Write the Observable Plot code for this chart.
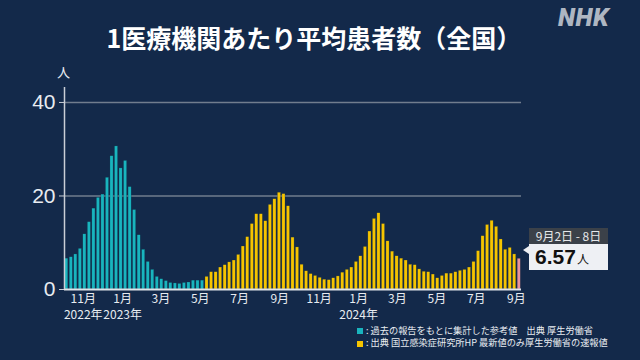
<!DOCTYPE html>
<html><head><meta charset="utf-8">
<script src="https://cdn.jsdelivr.net/npm/d3@7"></script>
<script src="https://cdn.jsdelivr.net/npm/@observablehq/plot@0.6"></script>
<style>
html,body{margin:0;padding:0;background:#13294a;}
#wrap{position:relative;width:640px;height:360px;background:#13294a;overflow:hidden;font-family:"Noto Sans CJK JP","Noto Sans",sans-serif;color:#fff;}
#chart{position:absolute;left:0;top:0;}
#title{position:absolute;left:0;width:628px;top:20px;text-align:center;font-size:25px;font-weight:700;line-height:34px;letter-spacing:0px;}
#nhk{position:absolute;left:558px;top:3px;font-family:Roboto,"DejaVu Sans",sans-serif;font-weight:900;font-style:italic;font-size:25px;color:#aeb6c2;letter-spacing:0.5px;}
#unit{position:absolute;left:57px;top:62px;font-size:13px;color:#e8ecf1;}
#legend{position:absolute;left:357px;top:323.5px;font-size:9.2px;line-height:12.5px;color:#e8ecf1;}
#legend div{white-space:nowrap;height:12.5px;}
#legend .sw{display:inline-block;width:6px;height:6px;margin-right:3px;vertical-align:-0.5px;}
#ann-head{position:absolute;left:529px;top:228px;width:79px;height:16px;background:#3b4149;color:#e6e8ea;font-size:12px;line-height:16px;text-align:center;}
#ann-val{position:absolute;left:529px;top:244px;width:79px;height:26px;background:#eef0f4;color:#111;box-sizing:border-box;padding-left:6px;line-height:26px;}
#ann-val .num{font-family:"Liberation Sans",Arial,sans-serif;font-weight:700;font-size:21px;}
#ann-val .u{font-size:12px;margin-left:1px;}
#ann-tri{position:absolute;left:523px;top:246px;width:0;height:0;border-top:4px solid transparent;border-bottom:4px solid transparent;border-right:6px solid #eef0f4;}
</style>
</head><body>
<div id="wrap">
  <div id="chart"></div>
  <div id="title">1医療機関あたり平均患者数（全国）</div>
  <div id="nhk">NHK</div>
  <div id="unit">人</div>
  <div id="ann-tri"></div>
  <div id="ann-head"></div>
  <div id="ann-val"></div>
  <div id="legend"></div>
</div>
<script>
// ---- data ----
const startWeek = "2022-10-03"; // first weekly bar (Monday)
const tealValues = [6.6, 6.9, 7.5, 8.7, 11.8, 14.4, 17.3, 19.6, 20.3, 23.9, 28.5, 30.6, 25.9, 27.5, 21.9, 17.0, 11.6, 8.5, 5.9, 4.2, 2.7, 2.2, 1.8, 1.4, 1.3, 1.2, 1.4, 1.5, 1.9, 1.9, 1.9];
const yellowValues = [2.7, 3.7, 3.7, 4.7, 5.2, 5.8, 6.2, 7.4, 9.2, 11.2, 14.0, 16.1, 16.1, 14.6, 18.1, 19.3, 20.7, 20.4, 17.8, 11.1, 9.0, 5.3, 3.9, 3.3, 2.9, 2.5, 2.1, 2.0, 2.4, 2.8, 3.6, 4.2, 4.7, 5.9, 7.1, 9.1, 12.4, 15.1, 16.3, 14.0, 10.3, 8.1, 7.1, 6.6, 6.2, 5.3, 5.2, 4.3, 3.8, 3.7, 3.2, 2.4, 2.9, 3.4, 3.4, 3.7, 4.0, 4.2, 4.7, 5.9, 8.2, 11.4, 13.8, 14.7, 13.4, 10.7, 8.5, 8.9, 7.5];
const latestValues = [6.57];
const latestLabel = "9月2日 - 8日";
const yTicks = [0, 20, 40];
const monthTickDates = ["2022-11-01","2023-01-01","2023-03-01","2023-05-01","2023-07-01","2023-09-01","2023-11-01","2024-01-01","2024-03-01","2024-05-01","2024-07-01","2024-09-01"];
const yearTickDates = ["2022-11-01","2023-01-01","2024-01-01"];
const yearTickLabels = ["2022年","2023年","2024年"];
const legendLabels = [": 過去の報告をもとに集計した参考値　出典 厚生労働省", ": 出典 国立感染症研究所HP 最新値のみ厚生労働省の速報値"];
const colors = {teal:"#19b4be", yellow:"#f6c400", latest:"#e9939b"};

// ---- build table ----
const start = new Date(startWeek + "T00:00:00Z");
const allValues = [
  ...tealValues.map(v => ({v, s:"teal"})),
  ...yellowValues.map(v => ({v, s:"yellow"})),
  ...latestValues.map(v => ({v, s:"latest"}))
];
const rows = allValues.map((d, i) => ({
  start: d3.utcDay.offset(start, 7 * i),
  end: d3.utcDay.offset(start, 7 * (i + 1)),
  value: d.v,
  series: d.s
}));
const endDate = rows[rows.length - 1].end;
const toDate = s => new Date(s + "T00:00:00Z");
const yearRows = yearTickDates.map((d, i) => ({date: toDate(d), label: yearTickLabels[i]}));

const barOpts = s => ({x1:"start", x2:"end", y:"value", fill: colors[s], insetLeft:0.7, insetRight:0.7, stroke:"#0d2b40", strokeWidth:0.4, strokeOpacity:0.6});

const chart = Plot.plot({
  width: 640, height: 360,
  marginTop: 87, marginBottom: 71, marginLeft: 64, marginRight: 119,
  style: {background:"transparent", color:"#e8ecf1", fontFamily:'"Noto Sans CJK JP","Noto Sans",sans-serif'},
  x: {type:"utc", domain:[start, endDate]},
  y: {domain:[0, 43.2]},
  marks: [
    Plot.gridY(yTicks.filter(d => d > 0), {stroke:"#717d8e", strokeOpacity:1, strokeWidth:1.5}),
    Plot.rectY(rows.filter(d => d.series === "teal"), barOpts("teal")),
    Plot.rectY(rows.filter(d => d.series === "yellow"), barOpts("yellow")),
    Plot.rectY(rows.filter(d => d.series === "latest"), barOpts("latest")),
    Plot.ruleY([0], {stroke:"#dfe3e8", strokeWidth:2}),
    Plot.ruleX([start], {y1:0, y2:43.2, stroke:"#c9ced6", strokeWidth:1.5}),
    Plot.axisY({ticks:yTicks, tickSize:5, tickPadding:4, fontSize:21, fontFamily:'"Liberation Sans",Arial,sans-serif', label:null, stroke:"#c9ced6"}),
    Plot.axisX({ticks:monthTickDates.map(toDate), tickFormat: d => `${d.getUTCMonth() + 1}月`, tickSize:0, tickPadding:5, fontSize:12, label:null}),
    Plot.text(yearRows, {x:"date", text:"label", frameAnchor:"bottom", lineAnchor:"middle", dy:26, fontSize:12, fill:"#e8ecf1"})
  ]
});
document.getElementById("chart").appendChild(chart);

document.getElementById("ann-head").textContent = latestLabel;
document.getElementById("ann-val").innerHTML = `<span class="num">${latestValues[0].toFixed(2)}</span><span class="u">人</span>`;
document.getElementById("legend").innerHTML = legendLabels.map((t, i) =>
  `<div><span class="sw" style="background:${i === 0 ? colors.teal : colors.yellow}"></span>${t}</div>`).join("");
</script>
</body></html>
